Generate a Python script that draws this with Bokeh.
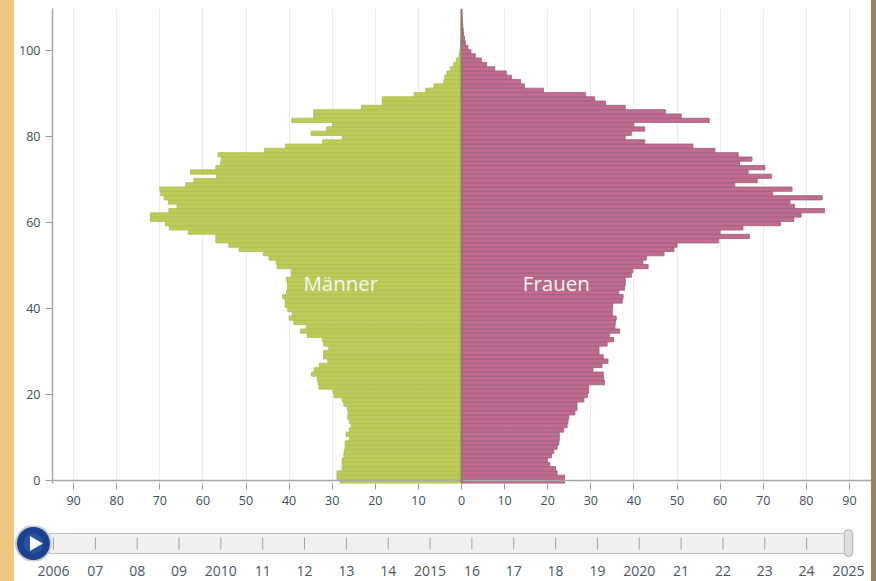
from bokeh.plotting import figure
from bokeh.models import Range1d, FixedTicker, Span, Label
from bokeh.layouts import column
from bokeh.embed import file_html
from bokeh.resources import INLINE
from bokeh.core.properties import value

ages = list(range(0, 110))
men = [28.2,28.9,28.9,27.7,27.7,27.7,27.3,27.2,27.0,27.0,26.0,26.8,26.0,25.6,26.0,26.4,26.3,26.5,27.3,27.7,
       29.6,29.8,33.1,33.3,33.5,34.8,34.2,33.0,31.0,32.0,32.0,30.8,32.0,32.3,35.8,37.4,36.0,38.9,40.0,39.3,
       40.3,40.9,40.9,41.5,40.6,40.4,40.4,40.6,39.5,39.5,42.8,43.0,44.7,46.0,51.6,54.0,57.0,57.0,63.4,67.8,
       68.7,72.2,72.2,67.9,66.0,68.0,69.0,69.8,70.0,64.0,62.1,56.8,62.9,57.0,55.9,55.7,56.5,45.7,40.8,32.2,
       27.7,34.9,31.3,29.9,39.4,34.3,34.3,23.2,18.4,18.4,11.0,8.3,6.4,4.1,3.9,3.4,2.6,1.8,1.2,0.6,
       0.4,0.3,0.2,0.2,0.1,0.1,0.1,0.1,0.05,0.05]
women = [23.9,23.9,22.2,21.8,20.5,19.9,20.9,21.4,22.2,22.6,22.7,22.7,23.7,24.5,24.7,24.9,26.3,26.8,26.8,28.4,
         29.2,29.5,29.5,33.2,33.0,32.9,30.5,32.6,34.0,32.9,31.9,31.9,33.8,35.3,34.3,36.7,35.6,35.7,35.9,35.0,
         35.0,35.1,37.3,37.5,36.5,37.8,38.0,38.0,39.4,39.7,43.3,42.1,42.9,47.0,49.3,50.0,59.7,66.8,60.0,65.3,
         74.0,77.1,78.8,84.2,77.3,76.2,83.7,72.2,76.7,63.4,68.6,71.9,66.5,70.4,64.5,67.4,64.2,58.8,53.7,42.5,
         38.0,39.4,42.5,40.0,57.5,51.0,47.3,38.0,33.4,30.9,28.8,19.0,14.6,13.7,11.6,10.4,7.7,5.8,4.6,3.2,
         2.2,1.5,0.9,0.7,0.5,0.4,0.3,0.2,0.15,0.1]
x_ticks = [-90,-80,-70,-60,-50,-40,-30,-20,-10,0,10,20,30,40,50,60,70,80,90]
y_ticks = [0,20,40,60,80,100]
years = list(range(2006, 2026))
year_labels = ["2006","07","08","09","2010","11","12","13","14","2015","16","17","18","19","2020","21","22","23","24","2025"]

FONT = "Open Sans"
LABEL = "#3d4d58"

p = figure(width=863, height=517, output_backend="svg", toolbar_location=None,
           x_range=Range1d((52-461)/4.31, (871-461)/4.31),
           y_range=Range1d(-3/4.3, 472/4.3),
           min_border_left=44, min_border_right=0, min_border_top=0, min_border_bottom=42)
p.frame_align = False
p.background_fill_color = None
p.border_fill_color = None
p.outline_line_color = None
p.ygrid.visible = False
p.xgrid.ticker = FixedTicker(ticks=x_ticks)
p.xgrid.grid_line_color = "#eaeaef"

p.xaxis.ticker = FixedTicker(ticks=x_ticks)
p.xaxis.major_label_overrides = {t: str(abs(t)) for t in x_ticks}
p.xaxis.axis_line_color = None
p.xaxis.major_tick_in = 0
p.xaxis.major_tick_out = 6
p.xaxis.major_tick_line_color = "#9a9a9a"
p.xaxis.major_label_standoff = 6
p.yaxis.ticker = FixedTicker(ticks=y_ticks)
p.yaxis.axis_line_color = "#a8a8a8"
p.yaxis.axis_line_width = 1.5
p.yaxis.major_tick_in = 0
p.yaxis.major_tick_out = 7
p.yaxis.major_tick_line_color = "#9a9a9a"
p.yaxis.major_label_standoff = 5
for ax in (p.xaxis[0], p.yaxis[0]):
    ax.minor_tick_line_color = None
    ax.major_label_text_font = FONT
    ax.major_label_text_font_size = "12.5px"
    ax.major_label_text_color = LABEL

p.add_layout(Span(location=0, dimension="width", line_color="#a8a8a8", line_width=1.5))

bar_y = [a - 0.25 for a in ages]
p.hbar(y=bar_y, left=[-m for m in men], right=0, height=1,
       fill_color="#BDCC58", line_color="#AEBE4F", line_width=0.8)
p.hbar(y=bar_y, left=0, right=women, height=1,
       fill_color="#C4698F", line_color="#93647B", line_width=0.8)
p.add_layout(Span(location=0, dimension="height", line_color="#8E7A72", line_width=2))

for txt, xv in (("Männer", -28), ("Frauen", 22)):
    p.add_layout(Label(x=xv, y=46, text=txt, text_color="#F6F6F2", text_font=FONT,
                       text_font_size="20.5px", text_align="center", text_baseline="middle"))

# time slider
s = figure(width=863, height=53, output_backend="svg", toolbar_location=None,
           x_range=Range1d(2006+(14-53)/41.84, 2006+(871-53)/41.84),
           y_range=Range1d(36, 0),
           min_border_left=6, min_border_right=0, min_border_top=0, min_border_bottom=17)
s.frame_align = False
s.background_fill_color = None
s.border_fill_color = None
s.outline_line_color = None
s.grid.visible = False
s.yaxis.visible = False
s.xaxis.ticker = FixedTicker(ticks=years)
s.xaxis.major_label_overrides = dict(zip(years, year_labels))
s.xaxis.axis_line_color = None
s.xaxis.major_tick_line_color = None
s.xaxis.minor_tick_line_color = None
s.xaxis.major_label_standoff = -2
s.xaxis.major_label_text_font = FONT
s.xaxis.major_label_text_font_size = "14px"
s.xaxis.major_label_text_color = "#4a5662"

s.quad(left=years[0]-0.1, right=years[-1], top=8, bottom=28,
       fill_color="#F0F0F0", line_color="#BDBDBD", line_width=1)
s.segment(x0=years[:-1], x1=years[:-1], y0=12, y1=24, line_color="#A0A0A0", line_width=1)
s.rect(x=[years[-1]], y=[17.5], width=0.2, height=27, fill_color="#DEDEDE", line_color="#B4B4B4",
       line_width=1, border_radius=4)
s.scatter(x=[years[0]-0.48], y=[18], size=35, marker="circle", fill_color="#1B418F",
          line_color="#C6CEDA", line_width=2)
s.scatter(x=[years[0]-0.48], y=[18], size=20, marker="circle", fill_color="#2F5DAE", line_color=None, alpha=0.6)
s.scatter(x=[years[0]-0.46], y=[18], size=15, marker="triangle", angle=-1.5708, fill_color="#FFFFFF", line_color=None)

html = file_html(column(p, s, spacing=0), INLINE)
style = ("<style>html{background:linear-gradient(to right,#EFC982 0,#EFC982 14px,#FFFFFF 14px,"
         "#FFFFFF 871px,#9A8457 871px,#9A8457 100%);}body{margin:8px 0 0 8px;background:transparent;}</style></head>")
html = html.replace("</head>", style, 1)
open("out.html", "w").write(html)
